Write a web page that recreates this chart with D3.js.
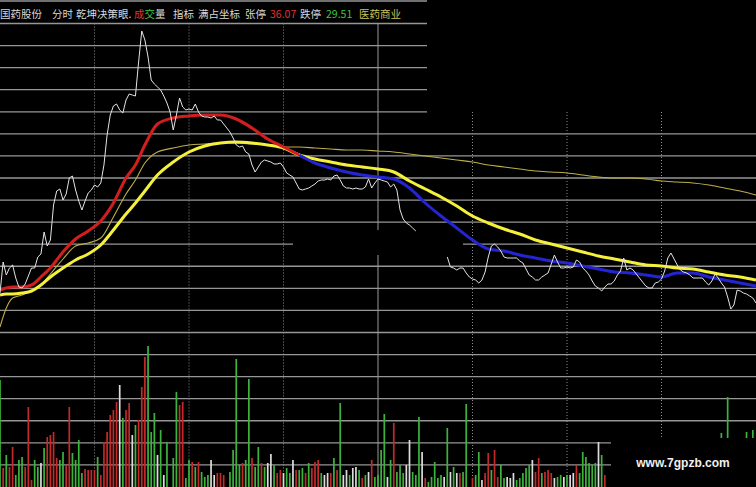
<!DOCTYPE html>
<html><head><meta charset="utf-8">
<script src="https://cdn.jsdelivr.net/npm/d3@7"></script>
<style>html,body{margin:0;padding:0;background:#000;overflow:hidden}</style>
</head><body>
<svg id="c" width="756" height="487"></svg>
<script>
// ---------------- DATA ----------------
// minute-by-minute price (240 trading minutes), null = no data drawn
const price = [
32.11,32.42,32.29,32.36,32.39,32.26,32.17,32.16,32.20,32.28,
32.36,32.36,32.47,32.50,32.72,32.58,32.64,32.99,33.13,33.15,
33.04,33.10,33.26,33.28,33.14,33.03,32.94,33.03,33.11,33.14,
33.19,33.17,33.21,33.39,33.69,33.89,33.98,34.00,33.94,33.91,
34.04,34.10,34.09,34.08,34.42,34.73,34.64,34.47,34.24,34.20,
34.17,34.14,34.08,34.01,33.92,33.74,33.89,34.06,33.97,33.94,
33.95,33.94,34.00,33.92,33.88,33.87,33.87,33.86,33.88,33.84,
33.84,33.80,33.76,33.72,33.66,33.59,33.57,33.58,33.52,33.50,
33.39,33.32,33.37,33.42,33.44,33.43,33.42,33.40,33.40,33.41,
33.37,33.31,33.29,33.27,33.21,33.15,33.14,33.15,33.16,33.18,
33.20,33.23,33.24,33.24,33.25,33.24,33.28,33.29,33.24,33.18,
33.16,33.16,33.15,33.16,33.15,33.15,33.17,33.25,33.16,33.21,
33.25,33.24,33.23,33.22,33.17,33.20,33.14,32.94,32.85,32.81,
32.79,32.76,32.73,null,null,null,null,null,null,null,
null,null,32.47,32.37,32.36,32.34,32.36,32.36,32.31,32.27,
32.25,32.24,32.21,32.24,32.32,32.47,32.58,32.60,32.57,32.53,
32.47,32.46,32.46,32.46,32.46,32.43,32.41,32.35,32.29,32.27,
32.24,32.24,32.27,32.29,32.31,32.40,32.49,32.42,32.36,32.36,
32.37,32.36,32.37,32.44,32.42,32.36,32.33,32.29,32.23,32.18,
32.16,32.13,32.17,32.20,32.20,32.23,32.29,32.33,32.46,32.34,
32.36,32.34,32.30,32.26,32.22,32.18,32.16,32.16,32.21,32.22,
32.25,32.33,32.46,32.51,32.45,32.39,32.34,32.32,32.31,32.29,
32.26,32.26,32.26,32.26,32.22,32.19,32.23,32.30,32.26,32.21,
32.17,32.07,31.95,31.99,32.14,32.13,32.11,32.10,32.08,32.06,32.01
];

// sample minutes for the smooth indicator lines
const maMinutes = [0,2,4,7,10,13,16,20,24,28,32,36,40,43,46,50,55,60,65,70,75,80,85,90,95,100,105,110,115,120,125,130,135,140,145,150,155,160,165,170,175,180,185,190,195,200,205,210,215,220,225,230,235,240];
// average price (thin khaki)
const avgPrice = [31.77,31.96,32.06,32.09,32.13,32.19,32.30,32.45,32.58,32.61,32.66,32.87,33.10,33.24,33.41,33.52,33.56,33.59,33.60,33.61,33.61,33.60,33.59,33.57,33.57,33.56,33.55,33.54,33.54,33.53,33.52,33.50,33.48,33.46,33.44,33.42,33.39,33.37,33.35,33.33,33.32,33.31,33.29,33.27,33.26,33.26,33.25,33.23,33.22,33.21,33.19,33.16,33.13,33.09];
// slow line (thick yellow)
const maSlow = [32.09,32.10,32.10,32.11,32.13,32.19,32.27,32.36,32.44,32.50,32.59,32.74,32.90,33.01,33.13,33.29,33.42,33.52,33.58,33.61,33.62,33.61,33.59,33.56,33.49,33.45,33.42,33.39,33.37,33.35,33.32,33.23,33.15,33.07,32.98,32.88,32.81,32.75,32.70,32.64,32.60,32.56,32.52,32.48,32.45,32.42,32.39,32.38,32.36,32.35,32.32,32.29,32.27,32.24];
// fast line (thick, red above slow line, blue below)
const maFast = [32.14,32.16,32.17,32.17,32.19,32.27,32.36,32.52,32.65,32.73,32.83,33.01,33.26,33.39,33.59,33.80,33.86,33.88,33.89,33.89,33.85,33.76,33.65,33.57,33.49,33.41,33.36,33.32,33.29,33.27,33.25,33.16,33.01,32.88,32.76,32.64,32.55,32.53,32.49,32.46,32.43,32.41,32.38,32.35,32.32,32.31,32.29,32.27,32.31,32.31,32.27,32.24,32.21,32.18];

// volume bars
const volMinutes = [].concat(d3.range(0,54), d3.range(55,72), d3.range(73,149), d3.range(150,193), [229,231,237,239]);
const volValues = [
1070,190,320,200,400,120,270,300,200,800,70,270,200,240,
390,500,520,550,290,270,350,220,800,340,270,470,140,180,170,170,170,300,120,450,550,720,770,850,1020,690,770,840,520,620,670,1000,1300,1410,550,740,320,570,120,450,
290,950,820,850,90,270,250,200,250,150,100,120,270,120,140,140,120,
150,370,1280,220,240,270,1080,290,200,400,240,200,240,330,220,140,170,140,190,140,270,170,170,190,140,240,190,250,270,140,120,140,140,290,170,840,120,170,120,190,200,170,90,120,150,270,100,
120,370,730,100,270,640,150,220,140,220,470,150,120,700,350,90,50,100,250,90,120,100,590,150,200,140,140,150,830,
90,120,350,70,140,340,170,370,100,220,90,100,90,140,70,90,140,190,220,270,150,290,140,150,170,140,90,100,120,100,120,120,140,220,140,350,300,240,220,240,450,320,120,
540,900,550,570
];
// r = up (red), g = down (green), w = flat (white)
const volDir = ("grgrrgggrrrggw" + "grrrrggrrggggrrrrgrrrrrrwgrrwgrrrgggwgwg" + "ggrrggrgrgggwwrrr" +
  "ggggrggrggrgwwgrrwggwrggrgrrrgwwrgrgwwgwwgrgwrg" + "gggwgrgggwwgggwrgggggwgwgwrgg" +
  "rggwrrgrrggwwwgggggwrrgrrrwggwgwwrggggggwgr" + "gggg").split("");

// header texts
const headerItems = [
  {t:"国药股份", x:0, c:"#d8d8d8"},
  {t:"分时", x:52, c:"#d8d8d8"},
  {t:"乾坤决策眼.", x:76, c:"#d8d8d8"},
  {t:"成", x:134, c:"#e03232"},
  {t:"交", x:144.5, c:"#3cc83c"},
  {t:"量", x:155, c:"#d8d8d8"},
  {t:"指标", x:173, c:"#d8d8d8"},
  {t:"满占坐标", x:198, c:"#d8d8d8"},
  {t:"张停", x:245, c:"#d8d8d8"},
  {t:"36.07", x:270, c:"#e03232"},
  {t:"跌停", x:300, c:"#d8d8d8"},
  {t:"29.51", x:326, c:"#3cc83c"},
  {t:"医药商业", x:359, c:"#cdc35a"}
];

// ---------------- DRAW ----------------
const W = 756, H = 487;
const svg = d3.select("#c");
svg.append("rect").attr("width", W).attr("height", H).attr("fill", "#000");

const x = d3.scaleLinear().domain([0, 240]).range([0, W]);
const y = d3.scaleLinear().domain([31.72, 34.80]).range([332, 24]);
const yv = d3.scaleLinear().domain([0, 1500]).range([H, 337]);

// grid
const grid = svg.append("g").attr("stroke", "#969696").attr("stroke-width", 1.3);
const step = 22.07;
const hl = [{y:1, x1:0, x2:427}];
for (let k = 0; k <= 20; k++) {
  const yy = 23.5 + k * step;
  if (k <= 4) hl.push({y:yy, x1:0, x2:427});
  else if (k === 10) { hl.push({y:yy, x1:0, x2:293}); hl.push({y:yy, x1:463, x2:W}); }
  else hl.push({y:yy, x1:0, x2:W});
}
grid.selectAll("line.h").data(hl).join("line")
  .attr("x1", d => d.x1).attr("x2", d => d.x2).attr("y1", d => d.y).attr("y2", d => d.y);

const vl = [
  {m:30, y1:23.5, y2:H, dash:true}, {m:60, y1:23.5, y2:H, dash:true}, {m:90, y1:23.5, y2:H, dash:true},
  {m:120, y1:23.5, y2:230, dash:false}, {m:120, y1:255, y2:H, dash:false},
  {m:150, y1:112, y2:H, dash:true}, {m:180, y1:112, y2:H, dash:true}, {m:210, y1:112, y2:H, dash:true}
];
svg.append("g").selectAll("line").data(vl).join("line")
  .attr("x1", d => x(d.m)).attr("x2", d => x(d.m)).attr("y1", d => d.y1).attr("y2", d => d.y2)
  .attr("stroke", d => d.dash ? "#8c8c8c" : "#9a9a9a")
  .attr("stroke-width", 1)
  .attr("stroke-dasharray", d => d.dash ? "1,2" : null);

// volume
const volColor = {r:"#c42a2a", g:"#3cb43c", w:"#dcdcdc"};
svg.append("g").selectAll("rect").data(volMinutes.map((m, i) => ({m, v:volValues[i], d:volDir[i]})))
  .join("rect")
  .attr("x", d => x(d.m) - 0.85).attr("width", 1.7)
  .attr("y", d => yv(d.v)).attr("height", d => H - yv(d.v))
  .attr("fill", d => volColor[d.d]);

// smooth lines
const smooth = d3.line().x(d => x(d[0])).y(d => y(d[1])).curve(d3.curveMonotoneX);
svg.append("path").attr("d", smooth(maMinutes.map((m, i) => [m, avgPrice[i]])))
  .attr("fill", "none").attr("stroke", "#bcae48").attr("stroke-width", 1.1);
svg.append("path").attr("d", smooth(maMinutes.map((m, i) => [m, maSlow[i]])))
  .attr("fill", "none").attr("stroke", "#f4f03c").attr("stroke-width", 3);

let split = maMinutes.length - 1;
for (let i = 0; i < maMinutes.length; i++) { if (maFast[i] < maSlow[i]) { split = i - 1; break; } }
const fastPts = maMinutes.map((m, i) => [m, maFast[i]]);
svg.append("path").attr("d", smooth(fastPts.slice(0, split + 1)))
  .attr("fill", "none").attr("stroke", "#d21e1e").attr("stroke-width", 3);
svg.append("path").attr("d", smooth(fastPts.slice(split)))
  .attr("fill", "none").attr("stroke", "#2424d2").attr("stroke-width", 3);

// price line
const pline = d3.line().defined(d => d[1] != null).x(d => x(d[0])).y(d => y(d[1]));
svg.append("path").attr("d", pline(price.map((p, i) => [i, p])))
  .attr("fill", "none").attr("stroke", "#e4e4e4").attr("stroke-width", 1);

// watermark box
svg.append("rect").attr("x", 611).attr("y", 438).attr("width", W - 611).attr("height", H - 438).attr("fill", "#000");
svg.append("text").attr("x", 683).attr("y", 467).attr("text-anchor", "middle")
  .attr("font-family", "Liberation Sans, Arial, sans-serif").attr("font-weight", "bold").attr("font-size", 12)
  .attr("fill", "#f0f0f0").text("www.7gpzb.com");

// header
svg.append("g").selectAll("text").data(headerItems).join("text")
  .attr("x", d => d.x).attr("y", 17.5)
  .attr("font-family", "'Noto Sans CJK SC', sans-serif").attr("font-size", 10.5)
  .attr("fill", d => d.c).text(d => d.t);
</script>
</body></html>
